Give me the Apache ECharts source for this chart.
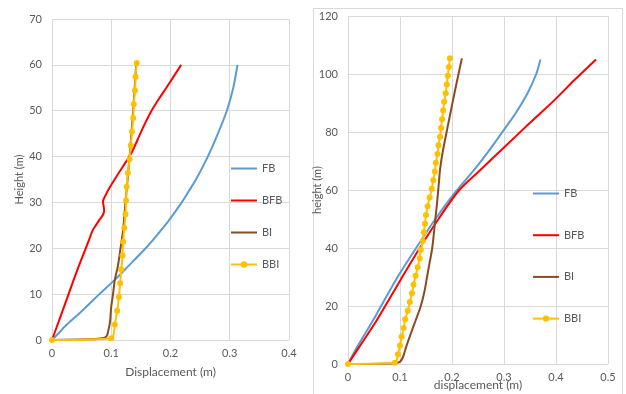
<!DOCTYPE html>
<html>
<head>
<meta charset="utf-8">
<script src="https://cdn.jsdelivr.net/npm/echarts@6/dist/echarts.min.js"></script>
<style>html,body{margin:0;padding:0;background:#fff;}#c{width:626px;height:394px;}</style>
</head>
<body>
<div id="c"></div>
<script>
// ---------- Left chart data (height m / displacement m) ----------
var leftFB_H  = [0, 1.8, 3, 6.5, 10, 13, 16, 20, 23, 26.2, 30, 32.7, 35, 40, 45, 50, 55, 60];
var leftFB_X  = [0, 0.0135, 0.022, 0.052, 0.080, 0.105, 0.128, 0.158, 0.178, 0.198, 0.219, 0.232, 0.243, 0.263, 0.28, 0.295, 0.306, 0.313];
var leftBFB_H = [0, 5, 10, 15, 20, 22, 24, 25, 26.2, 27.3, 28.3, 29.3, 30.2, 31.2, 33.4, 36.3, 38.9, 41, 45, 47.5, 50, 52.5, 55, 60];
var leftBFB_X = [0, 0.014, 0.028, 0.042, 0.057, 0.063, 0.069, 0.074, 0.080, 0.086, 0.088, 0.087, 0.086, 0.089, 0.098, 0.112, 0.125, 0.135, 0.149, 0.158, 0.168, 0.180, 0.193, 0.218];
var leftBI_H  = [0, 0.15, 0.4, 0.8, 2, 4, 7.3, 10, 13.1, 16, 20.3, 24, 30, 40, 50, 60];
var leftBI_X  = [0, 0.06, 0.085, 0.092, 0.095, 0.098, 0.1, 0.103, 0.106, 0.111, 0.116, 0.12, 0.124, 0.131, 0.137, 0.142];
var leftBBI_H = [0, 0.4, 3.4, 6.4, 9.4, 12.4, 15.4, 18.4, 21.4, 24.4, 27.4, 30.4, 33.4, 36.4, 39.4, 42.4, 45.4, 48.4, 51.4, 54.4, 57.4, 60.4];
var leftBBI_X = [0, 0.100, 0.106, 0.110, 0.113, 0.115, 0.117, 0.119, 0.120, 0.122, 0.124, 0.125, 0.126, 0.128, 0.131, 0.133, 0.135, 0.137, 0.138, 0.140, 0.141, 0.143];

// ---------- Right chart data ----------
var rightFB_H  = [0, 6, 15, 29, 40, 50, 59.4, 67, 74, 80, 86.4, 93.3, 100, 105];
var rightFB_X  = [0, 0.018, 0.048, 0.092, 0.131, 0.168, 0.207, 0.243, 0.273, 0.297, 0.322, 0.345, 0.362, 0.370];
var rightBFB_H = [0, 6, 15, 29, 40, 50, 60, 67, 75, 83, 91, 98, 105];
var rightBFB_X = [0, 0.022, 0.055, 0.101, 0.138, 0.174, 0.214, 0.255, 0.302, 0.349, 0.397, 0.436, 0.477];
var rightBI_H  = [0, 0.3, 0.8, 2.5, 6, 10.6, 15, 20, 25, 30, 35, 40, 50, 55, 63, 67, 73, 83, 94.5, 105.4];
var rightBI_X  = [0, 0.09, 0.1, 0.106, 0.112, 0.121, 0.130, 0.140, 0.147, 0.152, 0.157, 0.162, 0.168, 0.171, 0.175, 0.177, 0.182, 0.193, 0.206, 0.219];
var rightBBI_H = [0, 0.4, 3.4, 6.4, 9.4, 12.4, 15.4, 18.4, 21.4, 24.4, 27.4, 30.4, 33.4, 36.4, 39.4, 42.4, 45.4, 48.4, 51.4, 54.4, 57.4, 60.4, 63.4, 66.4, 69.4, 72.4, 75.4, 78.4, 81.4, 84.4, 87.4, 90.4, 93.4, 96.4, 99.4, 102.4, 105.4];
var rightBBI_X = [0, 0.090, 0.096, 0.100, 0.103, 0.107, 0.110, 0.115, 0.119, 0.123, 0.126, 0.130, 0.134, 0.138, 0.140, 0.144, 0.146, 0.148, 0.150, 0.153, 0.157, 0.161, 0.164, 0.167, 0.169, 0.172, 0.174, 0.177, 0.179, 0.181, 0.183, 0.185, 0.188, 0.190, 0.192, 0.194, 0.196];

var seriesNames = ['FB', 'BFB', 'BI', 'BBI'];
var leftTitles = {x: 'Displacement (m)', y: 'Height (m)'};
var rightTitles = {x: 'displacement (m)', y: 'height (m)'};

function pairs(xs, hs) { return xs.map(function (x, i) { return [x, hs[i]]; }); }

var FONT = 'Lato';
var TXT = '#595959';
var GRID = '#D9D9D9';
var colors = {FB: '#5B9BD5', BFB: '#FF0000', BI: '#8B4A1F', BBI: '#FFC000'};

function xAxisCfg(idx, max, name, gap) {
  return {
    type: 'value', gridIndex: idx, min: 0, max: max, interval: 0.1,
    name: name, nameLocation: 'middle', nameGap: gap, nameMoveOverlap: false,
    nameTextStyle: {color: TXT, fontSize: 12, fontFamily: FONT},
    axisLine: {show: false}, axisTick: {show: false},
    axisLabel: {color: TXT, fontSize: 11, fontFamily: FONT, margin: 8},
    splitLine: {show: true, lineStyle: {color: GRID, width: 1}}
  };
}
function yAxisCfg(idx, max, interval, name, gap) {
  return {
    type: 'value', gridIndex: idx, min: 0, max: max, interval: interval,
    name: name, nameLocation: 'middle', nameGap: gap, nameRotate: 90, nameMoveOverlap: false,
    nameTextStyle: {color: TXT, fontSize: 11, fontFamily: FONT},
    axisLine: {show: false}, axisTick: {show: false},
    axisLabel: {color: TXT, fontSize: 11, fontFamily: FONT, margin: 10},
    splitLine: {show: true, lineStyle: {color: GRID, width: 1}}
  };
}
function lineSeries(name, idx, data) {
  var isB = name === 'BBI';
  return {
    name: name, type: 'line', xAxisIndex: idx, yAxisIndex: idx,
    data: data, smooth: 0.3,
    symbol: isB ? 'circle' : 'none', symbolSize: 6, showSymbol: isB,
    lineStyle: {color: colors[name], width: 2},
    itemStyle: {color: colors[name]},
    emphasis: {disabled: true}, animation: false, z: isB ? 5 : 3
  };
}
function legendData() {
  return seriesNames.map(function (n) {
    return n === 'BBI' ? {name: n} : {name: n, itemStyle: {opacity: 0}};
  });
}

var chart = echarts.init(document.getElementById('c'), null, {renderer: 'canvas'});
chart.setOption({
  backgroundColor: '#ffffff',
  animation: false,
  textStyle: {fontFamily: FONT},
  graphic: [{
    type: 'rect', left: 311, top: 6, silent: true,
    shape: {x: 0, y: 0, width: 309, height: 400},
    style: {fill: 'none', stroke: GRID, lineWidth: 1}
  }],
  grid: [
    {left: 52, top: 19, width: 237, height: 321, containLabel: false, outerBoundsMode: 'none'},
    {left: 348, top: 16, width: 260, height: 348, containLabel: false, outerBoundsMode: 'none'}
  ],
  xAxis: [xAxisCfg(0, 0.4, leftTitles.x, 26), xAxisCfg(1, 0.5, rightTitles.x, 15)],
  yAxis: [yAxisCfg(0, 70, 10, leftTitles.y, 27), yAxisCfg(1, 120, 20, rightTitles.y, 25)],
  legend: [
    {data: legendData(), orient: 'vertical', left: 225, top: 158, itemWidth: 26, itemHeight: 8, itemGap: 21,
     textStyle: {color: TXT, fontSize: 11, fontFamily: FONT}, selectedMode: false},
    {data: legendData(), orient: 'vertical', left: 527, top: 183, itemWidth: 26, itemHeight: 8, itemGap: 30.7,
     textStyle: {color: TXT, fontSize: 11, fontFamily: FONT}, selectedMode: false}
  ],
  series: [
    lineSeries('FB', 0, pairs(leftFB_X, leftFB_H)),
    lineSeries('BFB', 0, pairs(leftBFB_X, leftBFB_H)),
    lineSeries('BI', 0, pairs(leftBI_X, leftBI_H)),
    lineSeries('BBI', 0, pairs(leftBBI_X, leftBBI_H)),
    lineSeries('FB', 1, pairs(rightFB_X, rightFB_H)),
    lineSeries('BFB', 1, pairs(rightBFB_X, rightBFB_H)),
    lineSeries('BI', 1, pairs(rightBI_X, rightBI_H)),
    lineSeries('BBI', 1, pairs(rightBBI_X, rightBBI_H))
  ]
});
</script>
</body>
</html>
